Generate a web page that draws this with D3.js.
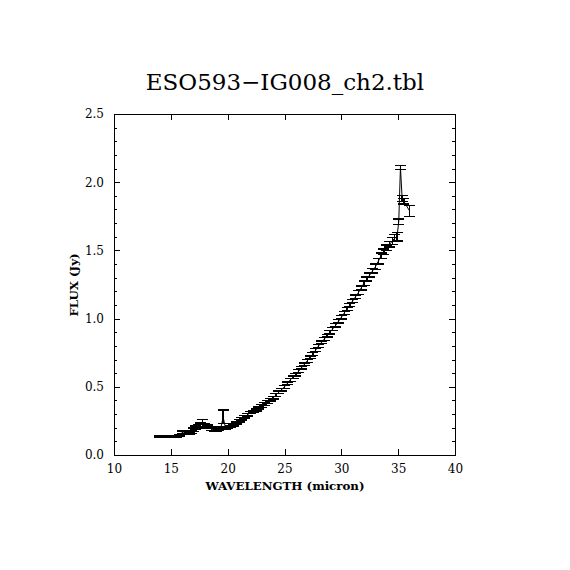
<!DOCTYPE html>
<html>
<head>
<meta charset="utf-8">
<script src="https://cdn.jsdelivr.net/npm/d3@7"></script>
<style>
  body { margin: 0; background: #fff; }
  svg { display: block; }
</style>
</head>
<body>
<script>
// spectrum values
const wavelength = [14.0, 14.25, 14.5, 14.75, 15.0, 15.25, 15.5, 15.75, 16.0, 16.2, 16.4, 16.6,
    16.8, 17.0, 17.2, 17.4, 17.6, 17.8, 18.0, 18.2, 18.4, 18.6, 18.8, 19.0, 19.2, 19.4, 19.6, 19.8,
    20.0, 20.25, 20.5, 20.75, 21.0, 21.25, 21.5, 21.75, 22.0, 22.25, 22.5, 22.75, 23.0, 23.25, 23.5,
    23.75, 24.0, 24.25, 24.5, 24.75, 25.0, 25.25, 25.5, 25.75, 26.0, 26.25, 26.5, 26.75, 27.0, 27.25,
    27.5, 27.75, 28.0, 28.25, 28.5, 28.75, 29.0, 29.25, 29.5, 29.75, 30.0, 30.25, 30.5, 30.75, 31.0,
    31.25, 31.5, 31.75, 32.0, 32.25, 32.5, 32.75, 33.0, 33.25, 33.5, 33.75, 34.0, 34.25, 34.5, 34.7,
    34.9, 35.05, 35.2, 35.35, 35.5, 36.0];
const flux = [0.135, 0.136, 0.135, 0.134, 0.135, 0.136, 0.138, 0.145, 0.165, 0.17, 0.165, 0.16,
    0.168, 0.185, 0.20, 0.21, 0.22, 0.235, 0.22, 0.21, 0.20, 0.19, 0.185, 0.185, 0.19, 0.195, 0.28, 0.20,
    0.20, 0.21, 0.22, 0.235, 0.25, 0.265, 0.28, 0.295, 0.31, 0.32, 0.33, 0.345, 0.36, 0.375, 0.39,
    0.405, 0.42, 0.44, 0.46, 0.48, 0.50, 0.525, 0.55, 0.57, 0.59, 0.615, 0.64, 0.665, 0.69, 0.715,
    0.74, 0.77, 0.80, 0.825, 0.85, 0.875, 0.90, 0.925, 0.95, 0.98, 1.01, 1.04, 1.07, 1.10, 1.13,
    1.16, 1.19, 1.225, 1.26, 1.29, 1.32, 1.35, 1.38, 1.42, 1.46, 1.49, 1.52, 1.545, 1.57, 1.59,
    1.60, 1.71, 2.11, 1.88, 1.86, 1.79];
const fluxErr = [0.005, 0.005, 0.005, 0.005, 0.005, 0.005, 0.005, 0.006, 0.01, 0.01, 0.008, 0.008,
    0.01, 0.012, 0.012, 0.015, 0.015, 0.025, 0.012, 0.01, 0.008, 0.008, 0.008, 0.008, 0.008, 0.01, 0.05, 0.01,
    0.008, 0.008, 0.008, 0.008, 0.008, 0.008, 0.008, 0.008, 0.008, 0.008, 0.008, 0.008, 0.01, 0.01, 0.01,
    0.01, 0.01, 0.01, 0.01, 0.01, 0.01, 0.01, 0.01, 0.01, 0.01, 0.01, 0.01, 0.01, 0.01, 0.01,
    0.01, 0.01, 0.01, 0.01, 0.01, 0.01, 0.012, 0.012, 0.012, 0.012, 0.012, 0.012, 0.012, 0.012, 0.012,
    0.012, 0.015, 0.015, 0.015, 0.015, 0.015, 0.015, 0.02, 0.02, 0.02, 0.02, 0.02, 0.02, 0.025, 0.025,
    0.03, 0.02, 0.015, 0.02, 0.02, 0.04];
const xTicks = [10, 15, 20, 25, 30, 35, 40];
const yTicks = [0.0, 0.5, 1.0, 1.5, 2.0, 2.5];
const titleText = "ESO593\u2212IG008_ch2.tbl";

const width = 570, height = 570;
const margin = { top: 114, right: 115, bottom: 115, left: 114 };
const capHalf = 5.5;
const serif = "'DejaVu Serif', 'Liberation Serif', serif";

const svg = d3.select("body").append("svg")
    .attr("width", width)
    .attr("height", height);

const x = d3.scaleLinear().domain([10, 40]).range([margin.left, width - margin.right]);
const y = d3.scaleLinear().domain([0, 2.5]).range([height - margin.bottom, margin.top]);

const data = wavelength.map((w, i) => ({ w: w, f: flux[i], e: fluxErr[i] }));

// frame
svg.append("rect")
    .attr("x", x(10)).attr("y", y(2.5))
    .attr("width", x(40) - x(10)).attr("height", y(0) - y(2.5))
    .attr("fill", "none").attr("stroke", "#000").attr("stroke-width", 1)
    .attr("shape-rendering", "crispEdges");

// axes with inward ticks
const yMinor = d3.range(0, 2.51, 0.1);
const axisG = svg.append("g").attr("shape-rendering", "crispEdges");

axisG.append("g")
    .attr("transform", `translate(0,${y(0)})`)
    .call(d3.axisBottom(x).tickValues(xTicks).tickSizeInner(-6).tickSizeOuter(0).tickPadding(9).tickFormat(d3.format("d")));
axisG.append("g")
    .attr("transform", `translate(0,${y(2.5)})`)
    .call(d3.axisTop(x).tickValues(xTicks).tickSizeInner(-6).tickSizeOuter(0).tickFormat(""));
axisG.append("g")
    .attr("transform", `translate(${x(10)},0)`)
    .call(d3.axisLeft(y).tickValues(yMinor).tickSizeInner(-3).tickSizeOuter(0).tickFormat(""));
axisG.append("g")
    .attr("transform", `translate(${x(10)},0)`)
    .call(d3.axisLeft(y).tickValues(yTicks).tickSizeInner(-6).tickSizeOuter(0).tickPadding(10).tickFormat(d3.format(".1f")));
axisG.append("g")
    .attr("transform", `translate(${x(40)},0)`)
    .call(d3.axisRight(y).tickValues(yMinor).tickSizeInner(-3).tickSizeOuter(0).tickFormat(""));
axisG.append("g")
    .attr("transform", `translate(${x(40)},0)`)
    .call(d3.axisRight(y).tickValues(yTicks).tickSizeInner(-6).tickSizeOuter(0).tickFormat(""));

axisG.selectAll(".domain").remove();
axisG.selectAll("line").attr("stroke", "#000");
axisG.selectAll("text")
    .attr("fill", "#000")
    .style("font-family", serif)
    .style("font-size", "12px");

// connecting line
svg.append("path")
    .datum(data)
    .attr("fill", "none")
    .attr("stroke", "#000")
    .attr("stroke-width", 1)
    .attr("d", d3.line().x(d => x(d.w)).y(d => y(d.f)));

// error bars
const bars = svg.append("g")
    .attr("stroke", "#000")
    .attr("stroke-width", 1.3)
    .attr("shape-rendering", "crispEdges");

bars.selectAll(".ebar")
    .data(data)
    .join("line")
    .attr("class", "ebar")
    .attr("x1", d => x(d.w)).attr("x2", d => x(d.w))
    .attr("y1", d => y(d.f - d.e)).attr("y2", d => y(d.f + d.e));

bars.selectAll(".capTop")
    .data(data)
    .join("line")
    .attr("class", "capTop")
    .attr("x1", d => x(d.w) - capHalf).attr("x2", d => x(d.w) + capHalf)
    .attr("y1", d => y(d.f + d.e)).attr("y2", d => y(d.f + d.e));

bars.selectAll(".capBot")
    .data(data)
    .join("line")
    .attr("class", "capBot")
    .attr("x1", d => x(d.w) - capHalf).attr("x2", d => x(d.w) + capHalf)
    .attr("y1", d => y(d.f - d.e)).attr("y2", d => y(d.f - d.e));

// title and axis labels
svg.append("text")
    .attr("x", 285).attr("y", 90)
    .attr("text-anchor", "middle")
    .style("font-family", serif)
    .style("font-size", "23px")
    .text(titleText);

svg.append("text")
    .attr("x", 285).attr("y", 490)
    .attr("text-anchor", "middle")
    .style("font-family", serif)
    .style("font-size", "11.8px")
    .style("font-weight", "bold")
    .text("WAVELENGTH (micron)");

svg.append("text")
    .attr("transform", `translate(78,285) rotate(-90)`)
    .attr("text-anchor", "middle")
    .style("font-family", serif)
    .style("font-size", "11.8px")
    .style("font-weight", "bold")
    .text("FLUX (Jy)");
</script>
</body>
</html>
